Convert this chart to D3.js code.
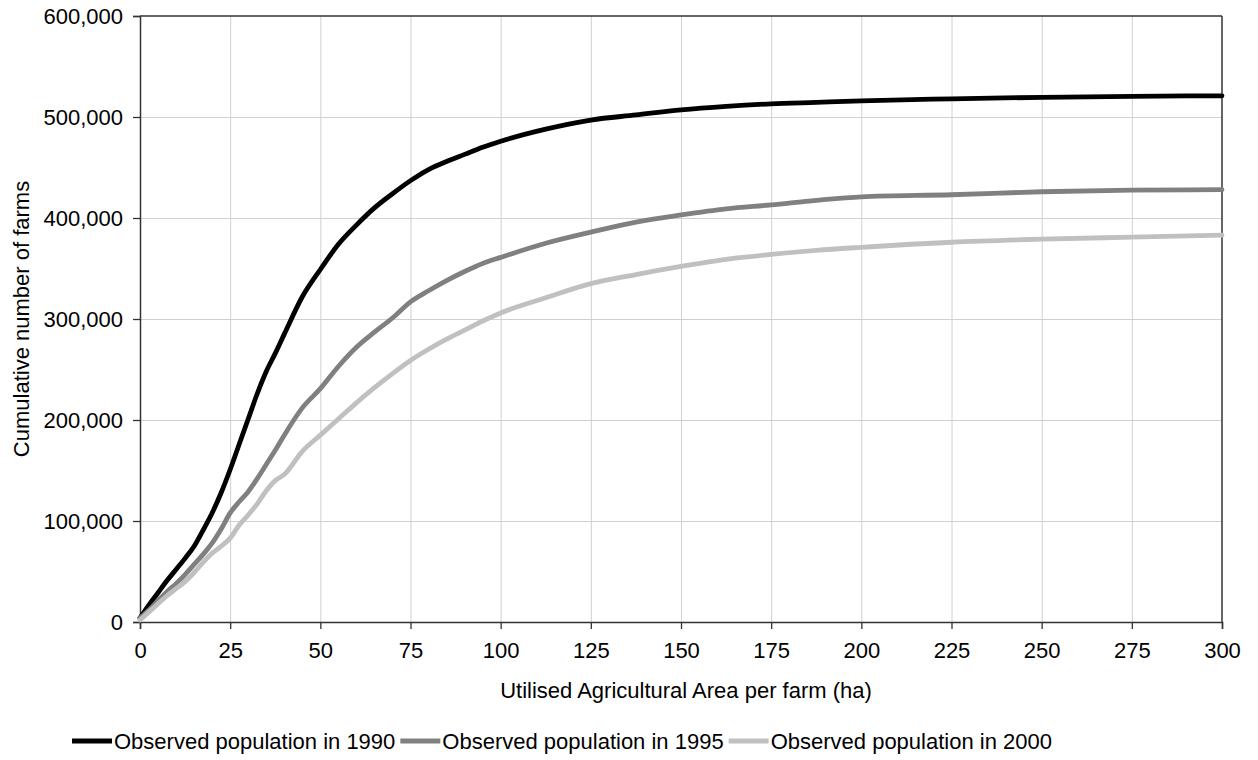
<!DOCTYPE html>
<html><head><meta charset="utf-8">
<script src="https://cdn.jsdelivr.net/npm/d3@7"></script>
<style>
html,body{margin:0;padding:0;background:#fff;}
svg text{font-family:"Liberation Sans",Arial,sans-serif;fill:#000;}
</style></head>
<body>
<svg id="chart" width="1258" height="760"></svg>
<script>
const areaHa = [0,2.5,5,7.5,10,12.5,15,17.5,20,22.5,25,27.5,30,32.5,35,37.5,40,45,50,55,60,65,70,75,80,85,90,95,100,112.5,125,137.5,150,162.5,175,187.5,200,225,250,275,300];
const farms1990 = [4000,17000,29000,41000,52000,63000,75000,91000,108000,128000,151000,176000,201000,226000,248000,266000,285000,322000,349000,374000,393000,410000,424000,437000,448000,456000,463000,470000,476000,488000,497000,502000,507000,510500,513000,514500,516000,518000,519500,520500,521000];
const farms1995 = [4000,12000,21000,30000,38000,47000,57000,67000,78000,92000,108000,119000,129000,142000,156000,170000,185000,212000,231000,253000,272000,287000,301000,317000,328000,338000,347000,355000,361000,375000,386000,396000,403000,409000,413000,417500,421000,423000,426000,427500,428000];
const farms2000 = [2000,10000,18000,26000,33000,40000,49000,59000,68000,75000,83000,96000,106000,117000,130000,140000,146000,169000,185000,201000,217000,232000,246000,259000,270000,280000,289000,298000,306000,321000,335000,344000,352000,359000,364000,368000,371000,376000,379000,381000,383000];
const seriesNames = ["Observed population in 1990","Observed population in 1995","Observed population in 2000"];
const seriesColors = ["#000000","#808080","#c0c0c0"];
const xTicks = [0,25,50,75,100,125,150,175,200,225,250,275,300];
const yTicks = [0,100000,200000,300000,400000,500000,600000];
const xTitle = "Utilised Agricultural Area per farm (ha)";
const yTitle = "Cumulative number of farms";

const svg = d3.select("#chart");
const L = 140, R = 1222, T = 16, B = 622;
const x = d3.scaleLinear().domain([0,300]).range([L,R]);
const y = d3.scaleLinear().domain([0,600000]).range([B,T]);
const fmt = d3.format(",");
const FS = 22;

// grid
svg.append("g").selectAll("line.vg").data(xTicks.slice(1,-1)).join("line")
  .attr("x1",d=>x(d)+0.5).attr("x2",d=>x(d)+0.5).attr("y1",T).attr("y2",B)
  .attr("stroke","#d0d0d0").attr("stroke-width",1);
svg.append("g").selectAll("line.hg").data(yTicks.slice(1,-1)).join("line")
  .attr("y1",d=>Math.round(y(d))+0.5).attr("y2",d=>Math.round(y(d))+0.5).attr("x1",L).attr("x2",R)
  .attr("stroke","#d0d0d0").attr("stroke-width",1);

// axes
const xAxis = d3.axisBottom(x).tickValues(xTicks).tickSize(7).tickPadding(13).tickFormat(d3.format("d"));
const gx = svg.append("g").attr("transform",`translate(0,${B})`).call(xAxis);
const yAxis = d3.axisLeft(y).tickValues(yTicks).tickSize(7).tickPadding(10).tickFormat(fmt);
const gy = svg.append("g").attr("transform",`translate(${L},0)`).call(yAxis);
[gx,gy].forEach(g=>{
  g.select(".domain").attr("stroke","#333").attr("stroke-width",1.5);
  g.selectAll(".tick line").attr("stroke","#333").attr("stroke-width",1.3);
  g.selectAll(".tick text").attr("font-size",FS).attr("fill","#000")
   .attr("font-family","Liberation Sans, Arial, sans-serif");
});
// box top & right
svg.append("line").attr("x1",L).attr("x2",R).attr("y1",T).attr("y2",T).attr("stroke","#333").attr("stroke-width",1.5);
svg.append("line").attr("x1",R).attr("x2",R).attr("y1",T).attr("y2",B).attr("stroke","#333").attr("stroke-width",1.5);

// lines
const allSeries = [farms1990,farms1995,farms2000];
const line = d3.line().x((d,i)=>x(areaHa[i])).y(d=>y(d)).curve(d3.curveMonotoneX);
svg.append("g").selectAll("path").data(allSeries).join("path")
  .attr("d",d=>line(d)).attr("fill","none")
  .attr("stroke",(d,i)=>seriesColors[i]).attr("stroke-width",4.8)
  .attr("stroke-linejoin","round").attr("stroke-linecap","round");

// titles
svg.append("text").attr("x",686).attr("y",698).attr("text-anchor","middle")
  .attr("font-size",FS).text(xTitle);
svg.append("text").attr("transform",`translate(29,${(T+B)/2}) rotate(-90)`)
  .attr("text-anchor","middle").attr("font-size",FS).text(yTitle);

// legend
const lg = svg.append("g");
let cx = 72;
const ly = 741;
seriesNames.forEach((n,i)=>{
  lg.append("line").attr("x1",cx).attr("x2",cx+40).attr("y1",ly).attr("y2",ly)
    .attr("stroke",seriesColors[i]).attr("stroke-width",4.8);
  const t = lg.append("text").attr("x",cx+42).attr("y",ly+8).attr("font-size",FS).text(n);
  const w = t.node().getComputedTextLength();
  cx = cx + 42 + w + 5;
});
</script>
</body></html>
